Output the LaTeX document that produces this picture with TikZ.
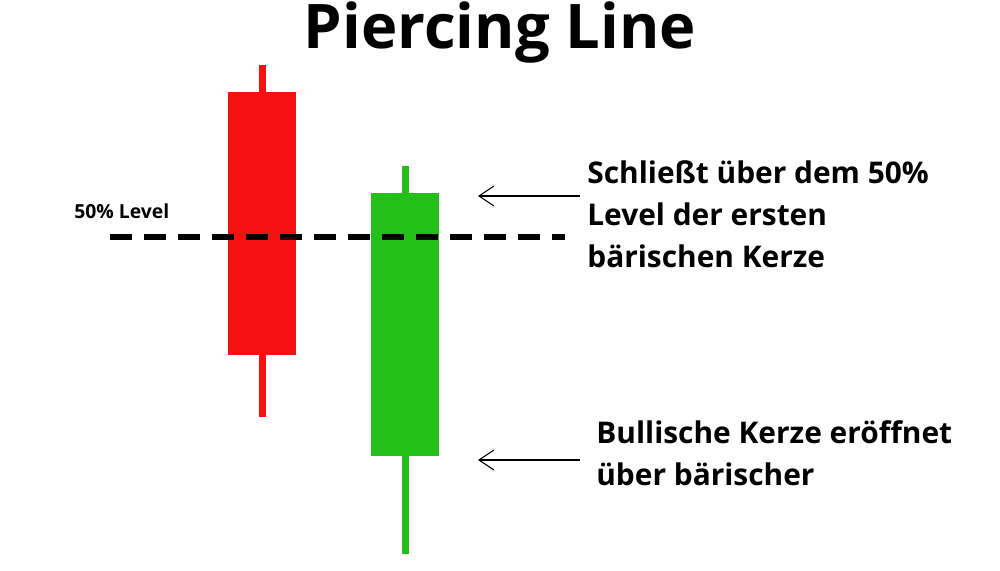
\documentclass[tikz,border=0pt]{standalone}
\usepackage{fontspec}
\setmainfont{Open Sans}
\usetikzlibrary{arrows.meta, positioning}
\definecolor{bearred}{RGB}{246,16,16}
\definecolor{bullgreen}{RGB}{34,192,24}

\begin{document}
\begin{tikzpicture}[x=0.2mm,y=-0.2mm]

		\tikzset{
			body/.style={
					draw=none, inner sep=0pt, minimum width=68*0.2mm, minimum height=263*0.2mm
				},
			wick/.style={
					line width=7*0.2mm
				},
			note/.style={
					font=\bfseries\fontsize{17}{24}\selectfont, align=left, anchor=north west, inner sep=0pt
				},
			pointer/.style={
					-{Straight Barb[length=3mm, width=4mm]}, line width=0.6pt
				},
		}
		\useasboundingbox (0,0) rectangle (1000,571);

		\node[font=\bfseries\fontsize{35}{40}\selectfont] (title) at (500,33) {Piercing Line};

		\draw[wick, bearred] (262,65) -- (262,417);
		\node[body, fill=bearred, anchor=north] (bear) at (262,92) {};
		\draw[wick, bullgreen] (405,166) -- (405,554);
		\node[body, fill=bullgreen, anchor=north] (bull) at (405,193) {};

		\coordinate (l1) at (110,237);
		\coordinate (l2) at (565,237);
		\draw[line width=6*0.2mm, dash pattern=on 22*0.2mm off 12*0.2mm] (l1) -- (l2);
		\node[font=\bfseries\fontsize{11}{13}\selectfont, anchor=west, inner sep=0pt] (level) at (74,211) {50\% Level};

		\node[note] (close) at (587,160) {Schließt über dem 50\%\\Level der ersten\\bärischen Kerze};
		\node[note] (open) at (596,420) {Bullische Kerze eröffnet\\über bärischer};

		\coordinate (a1) at (580,196);
		\coordinate (a2) at (478,196);
		\coordinate (b1) at (580,460);
		\coordinate (b2) at (478,460);
		\draw[pointer] (a1) -- (a2);
		\draw[pointer] (b1) -- (b2);

	\end{tikzpicture}
\end{document}
